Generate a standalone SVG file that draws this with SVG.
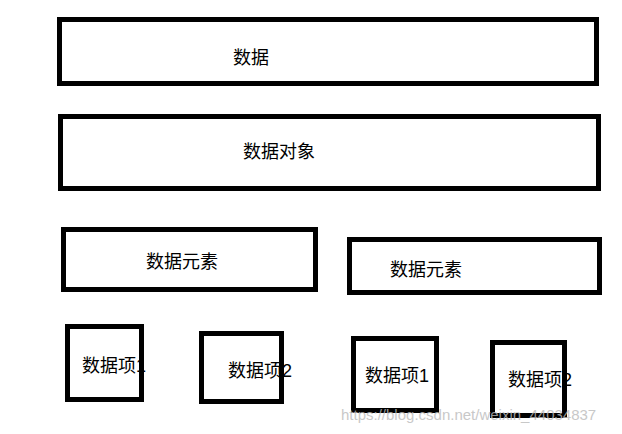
<svg xmlns="http://www.w3.org/2000/svg" width="622" height="434" viewBox="0 0 622 434">
<style>
.b{fill:none;stroke:#000;stroke-width:5}
.t{font-family:"Liberation Sans","Noto Sans CJK SC",sans-serif;font-size:18px;fill:#000}
.w{font-family:"Liberation Sans",sans-serif;font-size:15px;fill:#bbb;opacity:0.8}
</style>
<rect width="622" height="434" fill="#fff"/>
<g id="n1"><text class="t" x="233" y="64">数据</text><rect class="b" x="59.5" y="19.5" width="537" height="64"/></g>
<g id="n2"><text class="t" x="243" y="158">数据对象</text><rect class="b" x="60.5" y="116.5" width="538" height="72"/></g>
<g id="n3"><text class="t" x="146" y="268">数据元素</text><rect class="b" x="63.5" y="229.5" width="252" height="60"/></g>
<g id="n4"><text class="t" x="390" y="276">数据元素</text><rect class="b" x="349.5" y="239.5" width="250" height="53"/></g>
<g id="n5"><text class="t" x="82" y="372">数据项1</text><rect class="b" x="67.5" y="326.5" width="74" height="73"/></g>
<g id="n6"><text class="t" x="228" y="377">数据项2</text><rect class="b" x="201.5" y="333.5" width="80" height="68"/></g>
<g id="n7"><text class="t" x="365" y="382">数据项1</text><rect class="b" x="353.5" y="338.5" width="83" height="72"/></g>
<g id="n8"><text class="t" x="508" y="386">数据项2</text><rect class="b" x="492.5" y="342.5" width="72" height="73"/></g>
<g id="connectors"></g>
<text class="w" x="341" y="420">https://blog.csdn.net/weixin_44034837</text>
</svg>
